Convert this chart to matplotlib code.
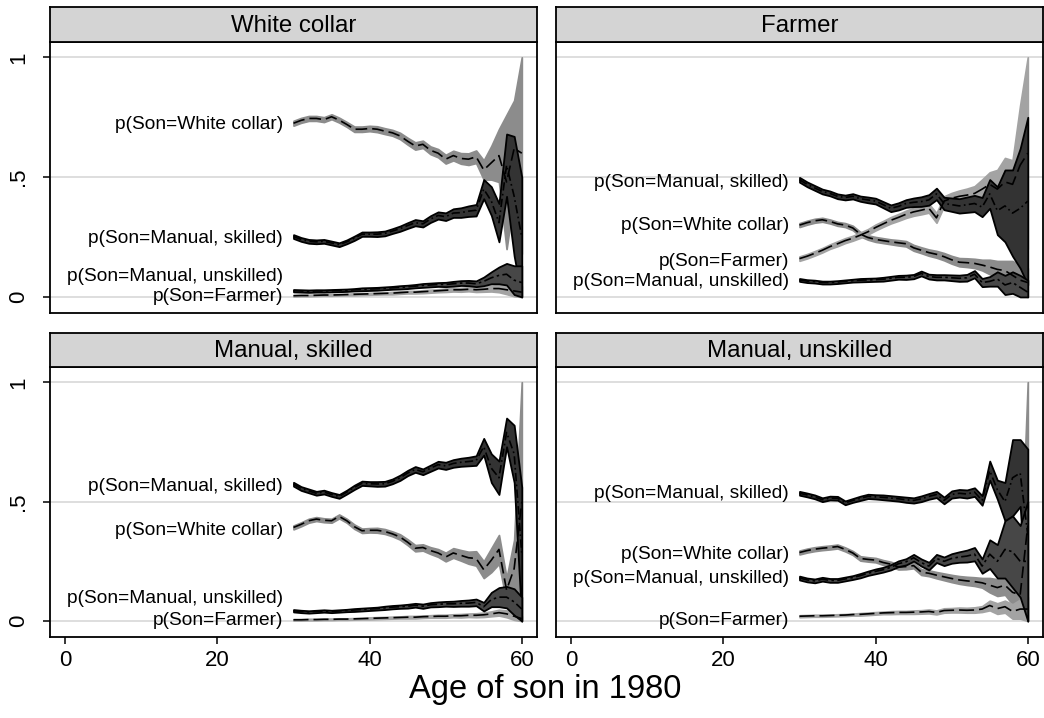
import numpy as np
import matplotlib.pyplot as plt

plt.rcParams['font.family'] = ['Liberation Sans', 'DejaVu Sans']

ages = np.arange(30, 61)

panel_titles = ["White collar", "Farmer", "Manual, skilled", "Manual, unskilled"]
son_labels = {
    "wc": "p(Son=White collar)",
    "fa": "p(Son=Farmer)",
    "ms": "p(Son=Manual, skilled)",
    "mu": "p(Son=Manual, unskilled)",
}

# father = White collar
wc_wc = [0.725,0.737,0.745,0.745,0.740,0.752,0.738,0.720,0.700,0.700,0.703,0.700,0.692,0.685,0.672,0.650,0.630,0.637,0.612,0.600,0.575,0.590,0.578,0.575,0.585,0.530,0.560,0.590,0.480,0.620,0.600]
wc_wc_ci = [0.010,0.010,0.010,0.010,0.010,0.010,0.010,0.010,0.011,0.011,0.011,0.012,0.012,0.012,0.013,0.014,0.015,0.015,0.016,0.017,0.018,0.020,0.022,0.024,0.026,0.040,0.070,0.110,0.280,0.200,0.420]
wc_ms = [0.252,0.240,0.232,0.230,0.232,0.225,0.218,0.230,0.245,0.262,0.262,0.262,0.265,0.275,0.285,0.298,0.310,0.305,0.325,0.340,0.335,0.350,0.352,0.358,0.362,0.450,0.400,0.310,0.550,0.420,0.250]
wc_ms_ci = [0.008,0.008,0.008,0.008,0.008,0.008,0.008,0.008,0.009,0.009,0.009,0.010,0.010,0.010,0.011,0.012,0.013,0.013,0.014,0.015,0.016,0.018,0.020,0.022,0.024,0.040,0.060,0.080,0.130,0.250,0.250]
wc_mu = [0.026,0.025,0.024,0.025,0.025,0.026,0.027,0.028,0.030,0.032,0.033,0.034,0.036,0.038,0.040,0.042,0.045,0.048,0.050,0.052,0.052,0.055,0.058,0.058,0.055,0.065,0.080,0.090,0.095,0.070,0.060]
wc_mu_ci = [0.005,0.005,0.005,0.005,0.005,0.005,0.005,0.005,0.005,0.006,0.006,0.006,0.006,0.006,0.007,0.007,0.007,0.008,0.008,0.008,0.009,0.010,0.010,0.011,0.012,0.018,0.025,0.035,0.045,0.060,0.070]
wc_fa = [0.005,0.006,0.006,0.007,0.008,0.008,0.009,0.010,0.011,0.012,0.013,0.014,0.015,0.016,0.018,0.020,0.020,0.022,0.024,0.026,0.028,0.030,0.030,0.032,0.030,0.032,0.035,0.035,0.030,0.025,0.020]
wc_fa_ci = [0.003,0.003,0.003,0.003,0.003,0.003,0.003,0.003,0.004,0.004,0.004,0.004,0.004,0.005,0.005,0.005,0.005,0.006,0.006,0.006,0.007,0.007,0.008,0.008,0.009,0.010,0.012,0.015,0.018,0.022,0.025]

# father = Farmer
fa_ms = [0.489,0.470,0.455,0.440,0.432,0.420,0.415,0.420,0.410,0.405,0.400,0.385,0.370,0.378,0.390,0.395,0.398,0.405,0.430,0.390,0.385,0.380,0.385,0.390,0.375,0.430,0.360,0.380,0.350,0.370,0.400]
fa_ms_ci = [0.010,0.010,0.010,0.010,0.010,0.010,0.010,0.011,0.011,0.012,0.012,0.013,0.014,0.015,0.016,0.018,0.020,0.022,0.024,0.026,0.028,0.030,0.032,0.034,0.040,0.060,0.100,0.150,0.180,0.250,0.350]
fa_wc = [0.300,0.310,0.318,0.322,0.315,0.305,0.300,0.288,0.262,0.248,0.240,0.235,0.230,0.226,0.222,0.205,0.195,0.185,0.178,0.168,0.155,0.145,0.143,0.140,0.133,0.125,0.115,0.110,0.090,0.070,0.060]
fa_wc_ci = [0.008,0.008,0.008,0.008,0.008,0.008,0.008,0.009,0.009,0.009,0.010,0.010,0.010,0.011,0.011,0.012,0.012,0.013,0.014,0.015,0.016,0.017,0.018,0.019,0.022,0.030,0.035,0.040,0.060,0.060,0.060]
fa_fa = [0.160,0.170,0.182,0.195,0.210,0.222,0.235,0.245,0.258,0.272,0.290,0.305,0.320,0.332,0.345,0.355,0.362,0.370,0.330,0.400,0.412,0.420,0.425,0.432,0.450,0.470,0.450,0.480,0.470,0.550,0.600]
fa_fa_ci = [0.009,0.009,0.009,0.009,0.009,0.010,0.010,0.010,0.011,0.011,0.012,0.012,0.013,0.014,0.015,0.016,0.017,0.018,0.020,0.020,0.022,0.024,0.027,0.030,0.040,0.050,0.080,0.100,0.100,0.250,0.400]
fa_mu = [0.071,0.066,0.064,0.060,0.060,0.062,0.065,0.068,0.070,0.071,0.072,0.074,0.078,0.082,0.082,0.085,0.098,0.085,0.082,0.082,0.080,0.078,0.080,0.095,0.060,0.065,0.075,0.050,0.060,0.040,0.020]
fa_mu_ci = [0.006,0.006,0.006,0.006,0.006,0.006,0.006,0.006,0.007,0.007,0.007,0.008,0.008,0.008,0.009,0.009,0.010,0.010,0.011,0.011,0.012,0.013,0.014,0.015,0.017,0.020,0.030,0.040,0.045,0.050,0.050]

# father = Manual, skilled
ms_ms = [0.573,0.555,0.545,0.535,0.540,0.530,0.522,0.540,0.560,0.577,0.575,0.574,0.575,0.585,0.600,0.620,0.635,0.625,0.640,0.655,0.650,0.660,0.665,0.668,0.672,0.730,0.640,0.600,0.790,0.700,0.280]
ms_ms_ci = [0.008,0.008,0.008,0.008,0.008,0.008,0.008,0.008,0.009,0.009,0.009,0.010,0.010,0.010,0.011,0.011,0.012,0.012,0.013,0.014,0.015,0.016,0.017,0.018,0.020,0.035,0.060,0.070,0.060,0.120,0.280]
ms_wc = [0.392,0.405,0.420,0.427,0.422,0.420,0.438,0.420,0.395,0.378,0.380,0.380,0.375,0.365,0.352,0.330,0.305,0.308,0.295,0.285,0.268,0.285,0.275,0.265,0.262,0.215,0.255,0.300,0.130,0.220,0.500]
ms_wc_ci = [0.008,0.008,0.008,0.008,0.008,0.008,0.008,0.008,0.009,0.009,0.009,0.010,0.010,0.010,0.011,0.012,0.013,0.013,0.014,0.016,0.018,0.020,0.022,0.025,0.030,0.035,0.050,0.060,0.050,0.120,0.500]
ms_mu = [0.043,0.040,0.038,0.040,0.042,0.040,0.042,0.044,0.046,0.048,0.050,0.052,0.055,0.058,0.060,0.062,0.066,0.062,0.068,0.070,0.072,0.072,0.074,0.075,0.078,0.060,0.090,0.100,0.100,0.080,0.050]
ms_mu_ci = [0.005,0.005,0.005,0.005,0.005,0.005,0.005,0.005,0.006,0.006,0.006,0.006,0.007,0.007,0.007,0.008,0.008,0.009,0.009,0.010,0.010,0.011,0.012,0.013,0.014,0.018,0.030,0.040,0.045,0.055,0.050]
ms_fa = [0.005,0.005,0.006,0.006,0.007,0.007,0.008,0.008,0.009,0.010,0.011,0.012,0.013,0.014,0.015,0.016,0.016,0.018,0.019,0.020,0.020,0.022,0.022,0.024,0.024,0.026,0.030,0.035,0.030,0.020,0.010]
ms_fa_ci = [0.003,0.003,0.003,0.003,0.003,0.003,0.003,0.003,0.003,0.003,0.004,0.004,0.004,0.004,0.004,0.005,0.005,0.005,0.005,0.006,0.006,0.006,0.007,0.007,0.008,0.009,0.010,0.012,0.014,0.015,0.010]

# father = Manual, unskilled
mu_ms = [0.535,0.528,0.520,0.508,0.515,0.514,0.495,0.505,0.514,0.522,0.520,0.518,0.515,0.512,0.508,0.505,0.512,0.522,0.530,0.505,0.530,0.535,0.532,0.540,0.505,0.630,0.550,0.500,0.600,0.620,0.360]
mu_ms_ci = [0.008,0.008,0.008,0.008,0.008,0.008,0.008,0.008,0.009,0.009,0.009,0.010,0.010,0.010,0.011,0.011,0.012,0.012,0.013,0.014,0.015,0.016,0.017,0.018,0.020,0.040,0.040,0.080,0.160,0.140,0.360]
mu_wc = [0.287,0.295,0.301,0.305,0.308,0.312,0.300,0.285,0.262,0.258,0.255,0.245,0.238,0.226,0.228,0.232,0.205,0.200,0.192,0.185,0.178,0.172,0.168,0.165,0.160,0.150,0.140,0.150,0.120,0.110,0.400]
mu_wc_ci = [0.008,0.008,0.008,0.008,0.008,0.008,0.008,0.008,0.009,0.009,0.009,0.010,0.010,0.010,0.011,0.011,0.012,0.012,0.013,0.014,0.015,0.016,0.017,0.018,0.020,0.030,0.035,0.040,0.050,0.060,0.600]
mu_mu = [0.180,0.172,0.168,0.175,0.170,0.170,0.176,0.182,0.190,0.200,0.208,0.215,0.225,0.240,0.248,0.265,0.245,0.230,0.262,0.250,0.262,0.268,0.272,0.280,0.230,0.280,0.250,0.300,0.290,0.250,0.250]
mu_mu_ci = [0.008,0.008,0.008,0.008,0.008,0.008,0.008,0.008,0.009,0.009,0.010,0.010,0.011,0.012,0.013,0.014,0.015,0.016,0.017,0.018,0.020,0.022,0.025,0.028,0.030,0.060,0.070,0.120,0.150,0.150,0.250]
mu_fa = [0.020,0.021,0.022,0.022,0.023,0.024,0.025,0.027,0.028,0.030,0.032,0.034,0.035,0.036,0.036,0.037,0.038,0.040,0.036,0.044,0.045,0.046,0.045,0.046,0.050,0.065,0.052,0.060,0.040,0.050,0.050]
mu_fa_ci = [0.004,0.004,0.004,0.004,0.004,0.004,0.004,0.004,0.005,0.005,0.005,0.005,0.006,0.006,0.006,0.007,0.007,0.008,0.008,0.009,0.009,0.010,0.010,0.011,0.012,0.020,0.022,0.025,0.030,0.040,0.050]

panel_series = [
    {"wc": (wc_wc, wc_wc_ci), "fa": (wc_fa, wc_fa_ci), "ms": (wc_ms, wc_ms_ci), "mu": (wc_mu, wc_mu_ci)},
    {"wc": (fa_wc, fa_wc_ci), "fa": (fa_fa, fa_fa_ci), "ms": (fa_ms, fa_ms_ci), "mu": (fa_mu, fa_mu_ci)},
    {"wc": (ms_wc, ms_wc_ci), "fa": (ms_fa, ms_fa_ci), "ms": (ms_ms, ms_ms_ci), "mu": (ms_mu, ms_mu_ci)},
    {"wc": (mu_wc, mu_wc_ci), "fa": (mu_fa, mu_fa_ci), "ms": (mu_ms, mu_ms_ci), "mu": (mu_mu, mu_mu_ci)},
]

# where the labels sit (y) so they don't collide
label_y = [
    {"wc": 0.72, "ms": 0.242, "mu": 0.084, "fa": 0.0},
    {"ms": 0.476, "wc": 0.30, "fa": 0.146, "mu": 0.063},
    {"ms": 0.565, "wc": 0.38, "mu": 0.096, "fa": 0.004},
    {"ms": 0.536, "wc": 0.28, "mu": 0.18, "fa": 0.004},
]

band_face = {"wc": "#8c8c8c", "fa": "#a3a3a3", "ms": "#333333", "mu": "#474747"}
band_edge = {"wc": "#8c8c8c", "fa": "#a3a3a3", "ms": "#000000", "mu": "#000000"}
dashes = {"wc": (0, (7, 3)), "fa": (0, (9, 3)), "ms": (0, (5, 2, 1, 2)), "mu": (0, (6, 2, 1.5, 2))}
draw_order = ["wc", "fa", "ms", "mu"]

fig = plt.figure(figsize=(10.44, 7.18), dpi=100)

W, H = 1044, 718
boxes = [(50, 42, 537, 313), (556, 42, 1043, 313), (50, 367, 537, 637), (556, 367, 1043, 637)]
strips = [(50, 7, 537, 42), (556, 7, 1043, 42), (50, 333, 537, 367), (556, 333, 1043, 367)]

for i in range(4):
    x0, y0, x1, y1 = boxes[i]
    ax = fig.add_axes([x0 / W, 1 - y1 / H, (x1 - x0) / W, (y1 - y0) / H])
    sx0, sy0, sx1, sy1 = strips[i]
    sax = fig.add_axes([sx0 / W, 1 - sy1 / H, (sx1 - sx0) / W, (sy1 - sy0) / H])
    sax.set_facecolor("#d4d4d4")
    sax.set_xticks([])
    sax.set_yticks([])
    for s in sax.spines.values():
        s.set_linewidth(1.3)
    sax.text(0.5, 0.46, panel_titles[i], ha="center", va="center", fontsize=17.3, transform=sax.transAxes)

    for yv in [0, 0.5, 1]:
        ax.axhline(yv, color="#dedede", lw=1.4, zorder=0)

    series = panel_series[i]
    for k in draw_order:
        c, ci = np.array(series[k][0]), np.array(series[k][1])
        lo = np.clip(c - ci, 0, 1)
        hi = np.clip(c + ci, 0, 1)
        ax.fill_between(ages, lo, hi, facecolor=band_face[k], edgecolor=band_edge[k], lw=1.3, zorder=2)
    for k in draw_order:
        ax.plot(ages, series[k][0], color="black", lw=1.2, linestyle=dashes[k], zorder=3)
    for k in draw_order:
        ax.text(28.6, label_y[i][k], son_labels[k], ha="right", va="center", fontsize=13.8)

    ax.set_xlim(-2, 62)
    ax.set_ylim(-0.067, 1.064)
    for s in ax.spines.values():
        s.set_linewidth(1.3)
    ax.set_xticks([0, 20, 40, 60])
    ax.set_yticks([0, 0.5, 1])
    ax.set_yticklabels(["0", ".5", "1"], rotation=90, va="center")
    ax.tick_params(axis="both", labelsize=16, length=5, width=1.1, direction="out")
    ax.tick_params(axis="y", pad=10)
    ax.tick_params(axis="x", pad=4)
    if i % 2 == 1:
        ax.tick_params(axis="y", left=False, labelleft=False)
    if i < 2:
        ax.tick_params(axis="x", bottom=False, labelbottom=False)

fig.text(0.5225, 0.039, "Age of son in 1980", ha="center", va="center", fontsize=23.5)

fig.savefig("out.png", dpi=100)
